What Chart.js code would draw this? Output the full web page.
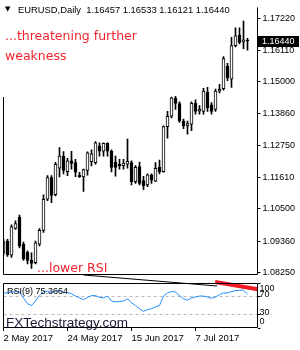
<!DOCTYPE html>
<html>
<head>
<meta charset="utf-8">
<script src="https://cdn.jsdelivr.net/npm/chart.js@4.4.1/dist/chart.umd.min.js"></script>
<style>
  body { margin: 0; background: #fff; }
  #wrap { position: relative; width: 300px; height: 350px; overflow: hidden; }
  canvas { position: absolute; left: 0; }
  #priceChart { top: 0; }
  #rsiChart { top: 260px; }
  .txt { position: absolute; white-space: nowrap; }
  #hdr { left: 18px; top: 5px; font: 9.4px/9.4px "Liberation Sans", Arial, sans-serif; color: #000; }
  #tri { left: 5px; top: 6px; font: 7px/7px "DejaVu Sans", sans-serif; color: #000; }
  .red { color: #f5222d; font-family: "DejaVu Sans", sans-serif; font-size: 12.5px; }
  #note1 { left: 5px; top: 26.4px; line-height: 19.5px; }
  #note2 { left: 37px; top: 262.4px; line-height: 12.5px; }
  #rsiLbl { left: 7px; top: 287px; font: 9px/9px "Liberation Sans", Arial, sans-serif; color: #000; }
  #brand { left: 6px; top: 316px; font: 13.5px/13.5px "Liberation Sans", Arial, sans-serif; color: #1b1b3a; }
</style>
</head>
<body>
<div id="wrap">
  <canvas id="priceChart" width="300" height="283"></canvas>
  <canvas id="rsiChart" width="300" height="90"></canvas>
  <div class="txt" id="tri">▼</div>
  <div class="txt" id="hdr">EURUSD,Daily&nbsp; 1.16457 1.16533 1.16121 1.16440</div>
  <div class="txt red" id="note1">...threatening further<br>weakness</div>
  <div class="txt red" id="note2">...lower RSI</div>
  <div class="txt" id="rsiLbl">RSI(9) 75.3664</div>
  <div class="txt" id="brand">FXTechstrategy.com</div>
</div>
<script>
// ===== Data (EURUSD daily, May - Jul 2017) =====
const dates = [
  '2 May 2017','3 May 2017','4 May 2017','5 May 2017','8 May 2017','9 May 2017','10 May 2017','11 May 2017',
  '12 May 2017','15 May 2017','16 May 2017','17 May 2017','18 May 2017','19 May 2017','22 May 2017','23 May 2017',
  '24 May 2017','25 May 2017','26 May 2017','29 May 2017','30 May 2017','31 May 2017','1 Jun 2017','2 Jun 2017',
  '5 Jun 2017','6 Jun 2017','7 Jun 2017','8 Jun 2017','9 Jun 2017','12 Jun 2017','13 Jun 2017','14 Jun 2017',
  '15 Jun 2017','16 Jun 2017','19 Jun 2017','20 Jun 2017','21 Jun 2017','22 Jun 2017','23 Jun 2017','26 Jun 2017',
  '27 Jun 2017','28 Jun 2017','29 Jun 2017','30 Jun 2017','3 Jul 2017','4 Jul 2017','5 Jul 2017','6 Jul 2017',
  '7 Jul 2017','10 Jul 2017','11 Jul 2017','12 Jul 2017','13 Jul 2017','14 Jul 2017','17 Jul 2017','18 Jul 2017',
  '19 Jul 2017','20 Jul 2017','21 Jul 2017','24 Jul 2017','25 Jul 2017','26 Jul 2017'
];
const opens = [
  1.0894,1.0936,1.0886,1.0981,1.1021,1.0925,1.0896,1.0868,1.0860,1.0925,1.0974,1.1084,1.1161,1.1100,1.1194,1.1237,
  1.1182,1.1220,1.1214,1.1170,1.1163,1.1186,1.1217,1.1214,1.1273,1.1254,1.1282,1.1254,1.1216,1.1208,1.1203,1.1208,
  1.1214,1.1146,1.1200,1.1150,1.1135,1.1171,1.1148,1.1197,1.1182,1.1341,1.1378,1.1441,1.1423,1.1361,1.1344,1.1350,
  1.1424,1.1396,1.1395,1.1463,1.1418,1.1402,1.1467,1.1475,1.1555,1.1509,1.1628,1.1665,1.1641,1.16457
];
const highs = [
  1.0943,1.0942,1.0994,1.1008,1.1028,1.0933,1.0902,1.0895,1.0936,1.0980,1.1100,1.1168,1.1168,1.1215,1.1267,1.1253,
  1.1229,1.1254,1.1225,1.1179,1.1191,1.1252,1.1259,1.1288,1.1284,1.1284,1.1284,1.1259,1.1237,1.1225,1.1225,1.1297,
  1.1220,1.1203,1.1216,1.1165,1.1174,1.1174,1.1214,1.1223,1.1344,1.1395,1.1446,1.1448,1.1429,1.1368,1.1361,1.1429,
  1.1436,1.1416,1.1477,1.1480,1.1426,1.1474,1.1491,1.1589,1.1565,1.1657,1.1691,1.1691,1.1715,1.16533
];
const lows = [
  1.0885,1.0882,1.0878,1.0977,1.0912,1.0868,1.0855,1.0839,1.0855,1.0919,1.0967,1.1079,1.1072,1.1096,1.1163,1.1174,
  1.1168,1.1191,1.1164,1.1161,1.1112,1.1169,1.1202,1.1208,1.1237,1.1237,1.1237,1.1181,1.1166,1.1191,1.1191,1.1194,
  1.1135,1.1140,1.1135,1.1118,1.1129,1.1140,1.1146,1.1174,1.1180,1.1300,1.1372,1.1402,1.1356,1.1334,1.1314,1.1327,
  1.1385,1.1385,1.1385,1.1395,1.1385,1.1395,1.1460,1.1470,1.1504,1.1480,1.1623,1.1634,1.1617,1.16121
];
const closes = [
  1.0934,1.0888,1.0987,1.0998,1.0919,1.0874,1.0868,1.0857,1.0930,1.0974,1.1084,1.1161,1.1098,1.1208,1.1237,1.1186,
  1.1220,1.1211,1.1180,1.1163,1.1189,1.1248,1.1245,1.1284,1.1254,1.1282,1.1254,1.1197,1.1197,1.1203,1.1212,1.1218,
  1.1146,1.1197,1.1140,1.1132,1.1171,1.1152,1.1194,1.1182,1.1341,1.1378,1.1443,1.1423,1.1361,1.1344,1.1352,1.1424,
  1.1395,1.1402,1.1467,1.1407,1.1395,1.1467,1.1473,1.1582,1.1514,1.1628,1.1662,1.1639,1.1648,1.16440
];
const rsi = [
  78,78,80,81,80,67,54,50,60,72,81,81.5,79,82,83,78,
  79,76,71,67,63,68,72,72,68,67,71,60,58,59,60,65,
  56,50,43,37,41,43,47,50,71,78,81,80,72,65,62,67,
  69,71,71,69,66,69,74,78,78,81,83,84,84,75.3664
];
const priceTicks = [1.0825, 1.0936, 1.1050, 1.1161, 1.1275, 1.1386, 1.1500, 1.1611, 1.1722];
const tickDates = ['2 May 2017', '24 May 2017', '15 Jun 2017', '7 Jul 2017'];
const rsiLevels = [100, 70, 30, 0];
// trendlines drawn on the RSI window: [bar index, RSI value]
const rsiTrend = [[20, 117.8], [53.4, 93.3]];
const rsiTrendRed = [[52.9, 102.2], [63.6, 86]];

const xMax = 63.5;
const last = closes.length - 1;
const FONT = '"Liberation Sans", Arial, sans-serif';

// ===== Plugins =====
// frame round the plot area; the text label at top left hides the upper part of the left edge
const frame = {
  id: 'frame',
  afterDraw(chart, args, opts) {
    const { ctx, chartArea: a } = chart;
    const L = Math.floor(a.left) + 0.5, R = Math.floor(a.right) + 0.5;
    const T = Math.floor(a.top) + 0.5, B = Math.floor(a.bottom) - 0.5;
    ctx.save();
    ctx.strokeStyle = '#000';
    ctx.lineWidth = 1;
    ctx.beginPath();
    ctx.moveTo(L, opts.leftFrom || T); ctx.lineTo(L, B); ctx.lineTo(R, B); ctx.lineTo(R, opts.top ? T : a.top);
    if (opts.top) { ctx.lineTo(L, T); }
    ctx.stroke();
    ctx.restore();
  }
};

const priceBox = {
  id: 'priceBox',
  afterDraw(chart) {
    const { ctx, chartArea: a } = chart;
    const y = chart.scales.y.getPixelForValue(closes[last]);
    ctx.save();
    ctx.fillStyle = '#000';
    ctx.fillRect(Math.floor(a.right) + 1, Math.round(y) - 5, 41, 11);
    ctx.fillStyle = '#fff';
    ctx.font = '9px ' + FONT;
    ctx.textBaseline = 'middle';
    ctx.fillText(closes[last].toFixed(5), a.right + 4.5, Math.round(y) + 0.5);
    ctx.restore();
  }
};

const rsiLabels = {
  id: 'rsiLabels',
  afterDraw(chart) {
    const { ctx, chartArea: a } = chart;
    const sc = chart.scales.y;
    ctx.save();
    ctx.fillStyle = '#000';
    ctx.font = '9px ' + FONT;
    ctx.textBaseline = 'middle';
    rsiLevels.forEach(lv => {
      let y = sc.getPixelForValue(lv) - 2;
      y = Math.min(Math.max(y, a.top + 6), a.bottom - 6);
      ctx.fillText(String(lv), a.right + 2, y);
    });
    ctx.restore();
  }
};

// ===== Price chart =====
const up = closes.map((c, i) => c >= opens[i]);

new Chart(document.getElementById('priceChart'), {
  type: 'bar',
  data: {
    datasets: [
      {
        label: 'body',
        data: opens.map((o, i) => ({ x: i, y: [o, closes[i]] })),
        backgroundColor: up.map(u => u ? '#fff' : '#000'),
        borderColor: '#000',
        borderWidth: 1,
        borderSkipped: false,
        barThickness: 3,
        minBarLength: 1,
        grouped: false,
        order: 0
      },
      {
        label: 'wick',
        data: lows.map((l, i) => ({ x: i, y: [l, highs[i]] })),
        backgroundColor: '#000',
        borderWidth: 0,
        barThickness: 1,
        grouped: false,
        order: 1
      }
    ]
  },
  options: {
    responsive: false,
    animation: false,
    layout: { padding: { left: 3.5, top: 2, bottom: 2, right: 0 } },
    plugins: { legend: { display: false }, tooltip: { enabled: false }, frame: { top: false, leftFrom: 97 } },
    scales: {
      x: { type: 'linear', display: false, min: 0, max: xMax, offset: false },
      y: {
        position: 'right',
        min: 1.0814, max: 1.1763,
        afterFit: s => { s.width = 42.5; },
        afterBuildTicks: s => { s.ticks = priceTicks.map(v => ({ value: v })); },
        ticks: { callback: v => v.toFixed(5), font: { family: FONT, size: 9 }, color: '#000', padding: 2 },
        grid: { drawOnChartArea: false, tickLength: 3, color: '#000' },
        border: { display: false }
      }
    }
  },
  plugins: [frame, priceBox]
});

// ===== RSI chart =====
new Chart(document.getElementById('rsiChart'), {
  type: 'line',
  data: {
    datasets: [
      {
        data: rsi.map((v, i) => ({ x: i, y: v })),
        borderColor: '#1e90ff', borderWidth: 1, pointRadius: 0, tension: 0
      },
      {
        data: [{ x: 0, y: 70 }, { x: xMax, y: 70 }],
        borderColor: '#b8b8b8', borderWidth: 1, borderDash: [3, 3], pointRadius: 0
      },
      {
        data: [{ x: 0, y: 30 }, { x: xMax, y: 30 }],
        borderColor: '#b8b8b8', borderWidth: 1, borderDash: [3, 3], pointRadius: 0
      },
      {
        data: rsiTrend.map(p => ({ x: p[0], y: p[1] })),
        borderColor: '#000', borderWidth: 1, pointRadius: 0, clip: false
      },
      {
        data: rsiTrendRed.map(p => ({ x: p[0], y: p[1] })),
        borderColor: '#f01c24', borderWidth: 4, pointRadius: 0, clip: false
      }
    ]
  },
  options: {
    responsive: false,
    animation: false,
    layout: { padding: { left: 3.5, top: 23, right: 0, bottom: 0 } },
    plugins: { legend: { display: false }, tooltip: { enabled: false }, frame: { top: true } },
    scales: {
      x: {
        type: 'linear', min: 0, max: xMax, offset: false,
        afterFit: s => { s.height = 22; },
        afterBuildTicks: s => { s.ticks = tickDates.map(d => ({ value: dates.indexOf(d) })); },
        ticks: {
          callback: v => dates[v], font: { family: FONT, size: 9.5 }, color: '#000',
          align: 'start', maxRotation: 0, minRotation: 0, autoSkip: false, padding: 2
        },
        grid: { drawOnChartArea: false, tickLength: 3, color: '#000' },
        border: { display: false }
      },
      y: {
        position: 'right', min: 0, max: 100,
        afterFit: s => { s.width = 42.5; },
        afterBuildTicks: s => { s.ticks = rsiLevels.map(v => ({ value: v })); },
        ticks: { display: false },
        grid: { drawOnChartArea: false, tickLength: 3, color: '#000' },
        border: { display: false }
      }
    }
  },
  plugins: [frame, rsiLabels]
});
</script>
</body>
</html>
